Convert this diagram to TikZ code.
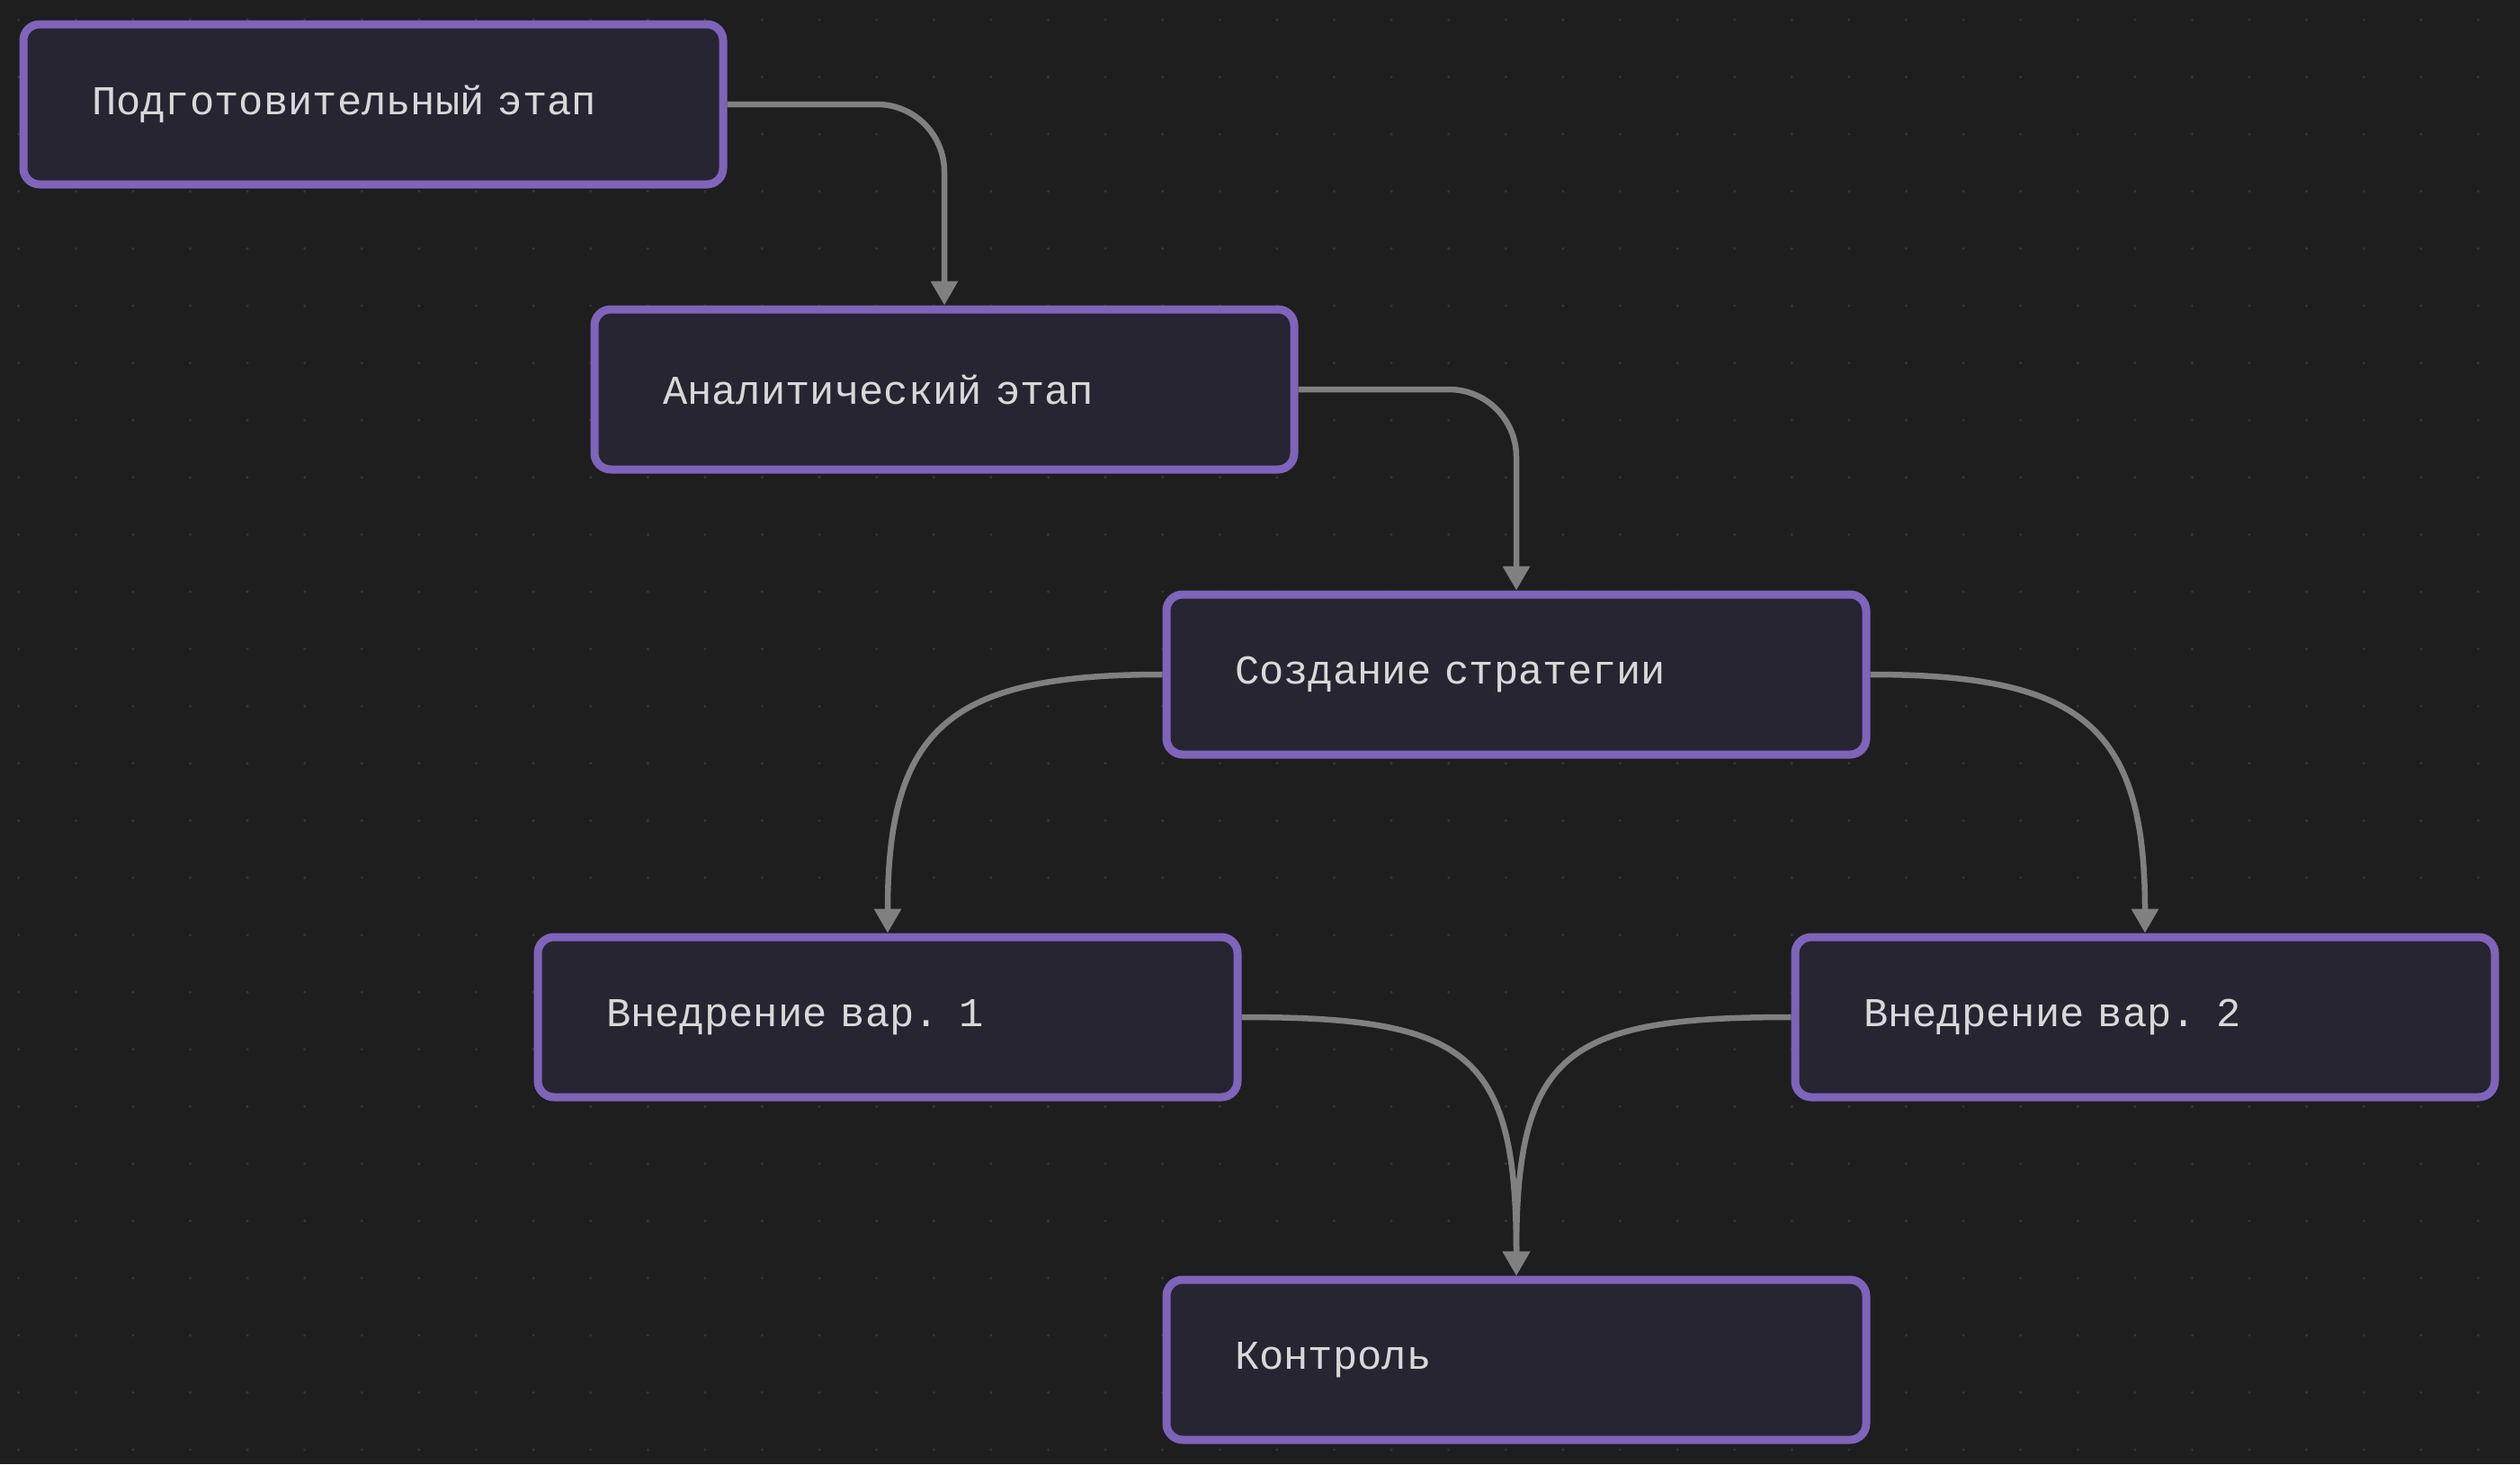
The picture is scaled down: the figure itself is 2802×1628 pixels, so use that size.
\documentclass[tikz,border=0pt]{standalone}
\usepackage{fontspec}
\setmonofont{Liberation Mono}
\usetikzlibrary{arrows.meta}

\definecolor{bgdark}{HTML}{1E1E1E}
\definecolor{griddot}{HTML}{363636}
\definecolor{boxfill}{HTML}{272532}
\definecolor{boxline}{HTML}{7E64BA}
\definecolor{linkgray}{HTML}{808080}
\definecolor{labeltext}{HTML}{D8D8D8}

\begin{document}
\begin{tikzpicture}[x=1pt, y=-1pt,
    stagebox/.style={draw=boxline, fill=boxfill, line width=9pt, rounded corners=18pt,
        minimum height=178pt, text width=626pt, inner xsep=76pt, align=left,
        text=labeltext, font=\ttfamily\fontsize{45.5}{54}\selectfont},
    flowarrow/.style={draw=linkgray, line width=6.5pt, -{Triangle[width=29pt,length=27pt]}}]
    % Background and dot grid
    \fill[bgdark] (0,0) rectangle (2802,1628);
    \useasboundingbox (0,0) rectangle (2802,1628);
    \foreach \gx in {0,...,43} \foreach \gy in {0,...,25}
        \fill[griddot] (20.7+63.6*\gx, 22+63.6*\gy) circle (1.7pt);

    % Stages
    \node[stagebox] (prep) at (415,116) {Подготовительный этап};
    \node[stagebox] (anal) at (1050,433) {Аналитический этап};
    \node[stagebox] (strat) at (1686,750) {Создание стратегии};
    \node[stagebox] (impa) at (987,1131) {Внедрение вар. 1};
    \node[stagebox] (impb) at (2385,1131) {Внедрение вар. 2};
    \node[stagebox] (ctrl) at (1686,1512) {Контроль};

    % Links
    \draw[flowarrow, rounded corners=75pt] (prep.east) -| (anal.north);
    \draw[flowarrow, rounded corners=75pt] (anal.east) -| (strat.north);
    \draw[flowarrow] (strat.west) .. controls +(-235,0) and +(0,-230) .. (impa.north);
    \draw[flowarrow] (strat.east) .. controls +(235,0) and +(0,-230) .. (impb.north);
    \draw[flowarrow] (impa.east) .. controls +(250,0) and +(0,-250) .. (ctrl.north);
    \draw[flowarrow] (impb.west) .. controls +(-250,0) and +(0,-250) .. (ctrl.north);
\end{tikzpicture}
\end{document}
